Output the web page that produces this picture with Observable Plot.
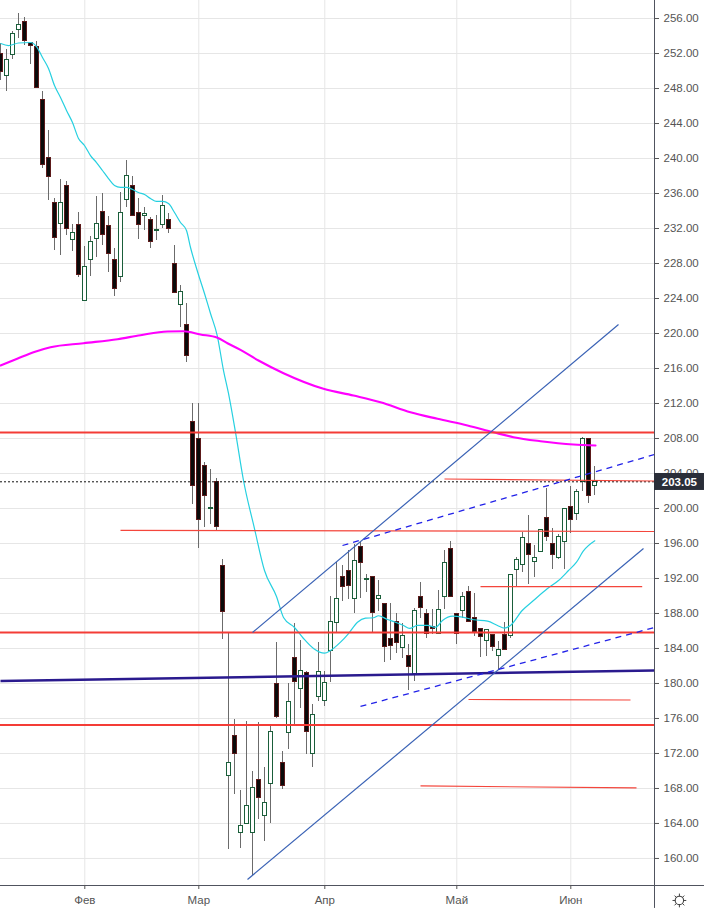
<!DOCTYPE html>
<html><head><meta charset="utf-8">
<script src="https://cdn.jsdelivr.net/npm/d3@7"></script>
<script src="https://cdn.jsdelivr.net/npm/@observablehq/plot@0.6"></script>
<style>html,body{margin:0;padding:0;background:#fff;overflow:hidden}svg{display:block}</style>
</head><body><div id="chart"></div>
<script>
const open=[251.97,249.45,251.85,254.71,255.58,253.22,252.72,246.71,240.08,234.94,232.54,236.88,230.71,232.38,223.74,228.38,230.82,233.91,232.26,228.42,226.48,235.28,236.88,233.79,233.45,232.99,231.74,232.42,232.99,227.97,223.28,221.0,209.94,207.97,204.88,199.89,203.0,193.45,169.45,174.02,162.93,163.97,162.93,168.99,164.88,168.54,179.97,170.94,174.37,182.94,179.39,181.22,171.97,178.48,178.02,183.74,186.94,192.19,192.88,189.68,195.62,191.85,192.19,189.68,189.11,185.11,187.05,184.08,183.17,181.11,189.91,187.97,186.48,185.68,189.91,195.39,187.97,188.31,190.48,187.51,186.25,184.88,185.57,183.17,185.57,185.45,192.95,193.57,195.97,193.91,195.05,198.94,195.97,194.37,196.19,200.2,199.39,203.05,207.97,202.59];
const close=[249.91,251.28,254.25,255.28,253.41,252.88,248.08,239.28,237.91,230.94,234.94,231.97,231.46,226.71,227.62,230.48,232.54,231.28,229.11,225.11,233.79,238.02,233.45,232.42,233.68,230.48,231.85,234.6,231.97,224.65,224.77,217.41,202.55,198.71,201.45,200.0,197.86,188.2,170.94,171.97,163.73,166.02,168.08,166.94,166.37,174.48,176.2,168.31,177.91,180.2,181.45,174.48,176.42,181.34,180.08,187.05,189.68,191.05,191.17,194.02,193.79,191.96,188.08,190.02,184.2,184.31,184.65,185.45,181.91,188.31,188.65,185.68,186.25,188.42,193.8,189.91,185.68,189.91,187.05,185.91,185.34,186.14,184.2,183.85,183.85,192.42,194.14,196.65,194.71,194.37,197.57,196.77,194.71,196.77,199.97,198.71,201.91,207.97,201.45,203.05];
const high=[253.14,252.42,254.51,256.54,256.08,253.26,253.37,247.66,243.2,235.39,237.6,237.37,232.46,233.79,229.94,231.08,235.66,235.97,233.37,229.68,236.08,239.77,237.94,235.39,234.43,233.29,233.49,235.74,233.68,230.06,225.49,223.46,211.97,211.97,205.26,204.46,203.39,194.17,185.71,175.88,167.77,175.66,169.94,175.54,170.4,175.08,184.68,172.23,179.97,186.82,184.91,181.37,177.6,184.68,181.37,189.94,193.86,193.49,195.2,195.9,196.15,192.46,192.23,191.77,189.14,189.14,188.0,186.86,184.42,188.57,191.57,188.46,188.42,190.63,195.2,196.23,187.97,190.43,191.08,190.25,186.28,186.17,185.57,184.8,186.94,192.46,194.37,197.22,199.2,195.77,197.57,202.25,197.68,197.0,200.0,202.51,202.14,208.15,207.97,204.8];
const low=[248.91,247.69,251.31,253.75,252.91,250.74,248.08,238.89,235.2,229.49,228.91,231.2,229.37,226.43,223.74,226.51,228.72,230.06,227.0,224.23,225.86,234.43,233.45,230.78,231.77,229.71,230.63,231.97,231.46,224.65,220.72,216.72,200.46,195.46,197.86,198.17,197.4,185.06,161.0,167.35,161.17,163.97,158.06,164.46,161.98,164.04,176.03,167.89,172.46,175.28,177.14,171.89,170.43,177.94,177.37,180.15,185.68,189.39,189.6,188.03,189.68,190.37,185.86,188.23,182.43,182.63,183.43,182.86,179.2,180.26,187.43,185.14,185.57,185.57,188.46,189.91,184.46,187.46,187.05,185.37,183.0,183.08,183.69,181.49,183.85,185.14,191.0,192.72,191.34,192.15,195.05,196.26,193.06,194.14,193.06,197.11,198.63,201.91,200.54,201.45];

const maBar=[0,1.28,2.95,4.95,5.95,6.95,7.95,8.95,9.95,10.95,11.95,12.95,13.95,14.95,15.95,16.95,17.95,18.95,19.95,20.95,21.95,22.95,23.95,24.95,25.95,26.95,27.95,28.95,29.95,30.95,31.62,32.73,33.95,34.95,36.07,37.12,37.95,39.12,40.45,42.28,43.95,45.95,47.12,48.95,50.45,52.12,53.95,54.95,56.62,57.95,59.45,60.78,62.12,62.95,64.45,65.78,67.12,68.12,69.45,71.12,72.45,73.62,75.28,76.95,78.78,81.12,82.78,83.95,84.95,86.9,88.78,91.07,92.95,94.62,95.95,97.07,99];
const maPrice=[253.14,252.91,253.2,253.26,252.8,251.54,250.29,248.34,246.97,245.49,244.11,242.29,241.49,240.34,239.54,238.63,237.71,236.91,236.69,236.69,236.46,236.11,235.89,235.43,235.09,235.09,234.86,233.83,232.69,231.77,229.83,227.2,224.57,222.29,219.77,215.77,213.15,208.69,203.2,197.71,192.91,189.94,187.54,186.4,185.14,184.0,183.46,183.77,184.72,185.71,187.0,187.46,187.51,187.74,187.31,187.0,186.63,186.29,186.63,186.63,186.43,187.2,187.69,187.58,187.28,187.12,186.63,186.32,186.63,188.34,189.48,190.82,191.77,192.91,193.86,195.12,196.31];
const longBar=[-0.05,2.73,5.45,8.28,13.78,19.45,23.28,27.78,30.45,33.28,36.12,37.78,39.95,42.95,47.12,53.78,58.78,63.28,68.28,72.78,77.78,82.12,85.45,89.95,95.45,99.12];
const longPrice=[216.34,217.11,217.86,218.43,218.89,219.35,219.81,220.23,220.26,219.89,219.51,218.89,218.13,216.91,215.46,213.68,212.91,212.15,211.0,210.25,209.49,208.71,208.15,207.69,207.31,207.2];

const thickLevels=[208.69,185.83,175.26];
const thinLevels=[
  {a:19.95,b:108.95,p1:197.49,p2:197.37},
  {a:73.95,b:108.95,p1:203.37,p2:203.14},
  {a:79.95,b:106.9,p1:191.08,p2:191.08},
  {a:77.95,b:104.95,p1:178.17,p2:178.11},
  {a:69.95,b:105.95,p1:168.29,p2:168.06}];
const navyLine=[{a:-0.05,b:108.95,p1:180.28,p2:181.49}];
const trendSolid=[{a:41.95,b:102.95,p1:185.83,p2:221.03},{a:41.12,b:107.12,p1:157.6,p2:195.43}];
const trendDashed=[{a:56.95,b:108.95,p1:195.77,p2:206.17},{a:59.95,b:108.95,p1:177.37,p2:186.4}];

const priceTicks=d3.range(160,257,4);
const monthBars=[14,33,54,76,95];
const monthLabels=["Фев","Мар","Апр","Май","Июн"];
const lastPrice=203.05;

const bars=open.map((o,i)=>({i,open:o,close:close[i],high:high[i],low:low[i],up:close[i]>=o}));
const xEnd=108.95, xOuter=117.28, yBottom=156.91, yTop=258.06, yOuter=154.29;
const fontFamily='"Liberation Sans",Arial,sans-serif';
const seg=(arr,o)=>Plot.link(arr,{x1:"a",x2:"b",y1:"p1",y2:"p2",clip:true,...o});

const chart=Plot.plot({
  width:704,height:908,
  marginLeft:0,marginRight:50,marginTop:0,marginBottom:23,
  style:{fontFamily,fontSize:"11px",background:"#fff",overflow:"visible"},
  x:{type:"linear",domain:[-0.05,xEnd],axis:null},
  y:{domain:[yBottom,yTop],axis:null},
  marks:[
    Plot.ruleY(priceTicks,{stroke:"#e6e6e6",strokeWidth:1}),
    Plot.ruleX(monthBars,{stroke:"#e6e6e6",strokeWidth:1}),
    Plot.ruleX(bars,{x:"i",y1:"low",y2:"high",stroke:"#6b6b6b",strokeWidth:1,clip:true,shapeRendering:"crispEdges"}),
    Plot.rect(bars,{x1:d=>d.i-0.33,x2:d=>d.i+0.33,y1:"open",y2:"close",
      fill:d=>d.up?"#ffffff":"#0a0a0a",stroke:d=>d.up?"#1a5e3a":"#5c1a1a",strokeWidth:1,clip:true,shapeRendering:"crispEdges"}),
    Plot.line(maBar.map((b,k)=>({b,p:maPrice[k]})),{x:"b",y:"p",stroke:"#26d0e0",strokeWidth:1.2,curve:"monotone-x",clip:true}),
    Plot.line(longBar.map((b,k)=>({b,p:longPrice[k]})),{x:"b",y:"p",stroke:"#ff00ff",strokeWidth:2.1,curve:"monotone-x",clip:true}),
    Plot.ruleY([lastPrice],{stroke:"#111",strokeWidth:1,strokeDasharray:"2 2",x1:-0.05,x2:xEnd}),
    Plot.ruleY(thickLevels,{stroke:"#f43c36",strokeWidth:2,x1:-0.05,x2:xEnd}),
    seg(thinLevels,{stroke:"#f4463c",strokeWidth:1.2}),
    seg(navyLine,{stroke:"#2a1a8e",strokeWidth:2.5}),
    seg(trendSolid,{stroke:"#3a62b5",strokeWidth:1.2}),
    seg(trendDashed,{stroke:"#2222e8",strokeWidth:1.3,strokeDasharray:"6 5"}),
    Plot.ruleX([xEnd],{y1:yOuter,y2:yTop,stroke:"#50535e",strokeWidth:1}),
    Plot.ruleY([yBottom],{x1:-0.05,x2:xOuter,stroke:"#50535e",strokeWidth:1}),
    Plot.axisY(priceTicks,{anchor:"right",tickFormat:d=>d.toFixed(2),tickSize:4,tickPadding:5,label:null,color:"#555",fontSize:11.5}),
    Plot.axisX(monthBars,{anchor:"bottom",tickFormat:d=>monthLabels[monthBars.indexOf(d)],tickSize:4,tickPadding:6,label:null,color:"#555",fontSize:11.5}),
    Plot.rect([lastPrice],{x1:xEnd,x2:xOuter,y1:202.06,y2:204.0,fill:"#2a2e39"}),
    Plot.text([lastPrice],{x:113.1,y:lastPrice,text:d=>d.toFixed(2),fill:"#fff",fontWeight:700,fontSize:11.5,dy:0.3}),
    Plot.dot([0],{x:113.1,y:155.2,symbol:"plus",r:4.5,stroke:"#444",strokeWidth:1}),
    Plot.dot([0],{x:113.1,y:155.2,symbol:"times",r:4.5,stroke:"#444",strokeWidth:1}),
    Plot.dot([0],{x:113.1,y:155.2,r:4.2,fill:"#fff",stroke:"#444",strokeWidth:1.1})
  ]
});
document.getElementById("chart").appendChild(chart);
</script></body></html>
